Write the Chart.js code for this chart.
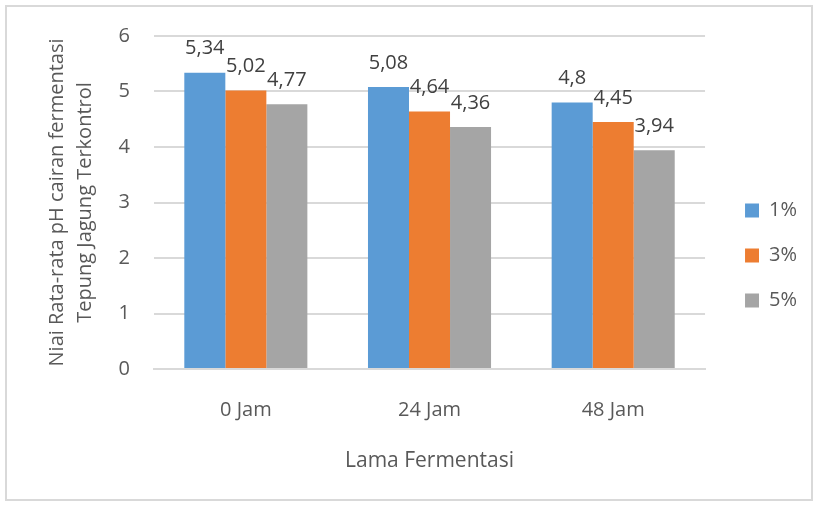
<!DOCTYPE html>
<html>
<head>
<meta charset="utf-8">
<script src="https://cdn.jsdelivr.net/npm/chart.js@4"></script>
<style>
  html, body { margin: 0; padding: 0; background: #fff; }
  #wrap { position: absolute; left: 5px; top: 5px; width: 808px; height: 496px; border: 2px solid #d9d9d9; box-sizing: border-box; }
  #box { position: absolute; left: 0; top: 0; width: 819px; height: 507px; }
</style>
</head>
<body>
<div id="wrap"></div>
<div id="box"><canvas id="myChart" width="819" height="507"></canvas></div>
<script>
const categories = ['0 Jam', '24 Jam', '48 Jam'];
const seriesNames = ['1%', '3%', '5%'];
const values1 = [5.34, 5.08, 4.8];
const values3 = [5.02, 4.64, 4.45];
const values5 = [4.77, 4.36, 3.94];
const yTicks = [0, 1, 2, 3, 4, 5, 6];

const colors = ['#5b9bd5', '#ed7d31', '#a5a5a5'];
const textColor = '#595959';
const fontFamily = '"Open Sans", "Noto Sans", sans-serif';

const ctx = document.getElementById('myChart').getContext('2d');

// Draw value labels above each bar, Excel style with comma decimals
const valueLabels = {
  id: 'valueLabels',
  afterDatasetsDraw(chart) {
    const c = chart.ctx;
    c.save();
    c.font = '20px ' + fontFamily;
    c.fillStyle = '#404040';
    c.textAlign = 'center';
    c.textBaseline = 'middle';
    chart.data.datasets.forEach((ds, i) => {
      chart.getDatasetMeta(i).data.forEach((bar, j) => {
        const txt = String(ds.data[j]).replace('.', ',');
        c.fillText(txt, bar.x, bar.y - 24);
      });
    });
    c.restore();
  }
};

const myChart = new Chart(ctx, {
  type: 'bar',
  data: {
    labels: categories,
    datasets: [
      { label: seriesNames[0], data: values1, backgroundColor: colors[0] },
      { label: seriesNames[1], data: values3, backgroundColor: colors[1] },
      { label: seriesNames[2], data: values5, backgroundColor: colors[2] }
    ]
  },
  options: {
    responsive: false,
    animation: false,
    layout: { padding: { left: 0, right: 12, top: 34, bottom: 30 } },
    datasets: {
      bar: { categoryPercentage: 0.67, barPercentage: 1 }
    },
    plugins: {
      legend: {
        position: 'right',
        labels: {
          boxWidth: 14,
          boxHeight: 14,
          padding: 25,
          color: textColor,
          font: { size: 20, family: fontFamily }
        }
      },
      tooltip: { enabled: false }
    },
    scales: {
      x: {
        afterFit(scale) { scale.height = 108; },
        grid: { display: false, drawTicks: false },
        border: { display: true, color: '#d9d9d9', width: 2 },
        ticks: { color: textColor, padding: 29, font: { size: 20, family: fontFamily } },
        title: {
          display: true,
          text: 'Lama Fermentasi',
          color: textColor,
          padding: { top: 0, bottom: 3 },
          font: { size: 21, family: fontFamily }
        }
      },
      y: {
        min: 0,
        max: 6,
        afterFit(scale) { scale.width = 154; },
        afterBuildTicks(scale) {
          scale.ticks = yTicks.map(v => ({ value: v }));
        },
        grid: { color: '#d9d9d9', lineWidth: 2, drawTicks: false },
        border: { display: false },
        ticks: { color: textColor, padding: 24, font: { size: 20, family: fontFamily } },
        title: {
          display: true,
          text: ['Niai Rata-rata pH cairan fermentasi', 'Tepung Jagung Terkontrol'],
          color: textColor,
          padding: { top: 43, bottom: 0 },
          font: { size: 20, family: fontFamily, lineHeight: 1.4 }
        }
      },
      // empty right axis used only as a gap between plot and legend
      gap: {
        type: 'linear',
        position: 'right',
        afterFit(scale) { scale.width = 15; },
        grid: { display: false },
        border: { display: false },
        ticks: { display: false }
      }
    }
  },
  plugins: [valueLabels]
});
</script>
</body>
</html>
